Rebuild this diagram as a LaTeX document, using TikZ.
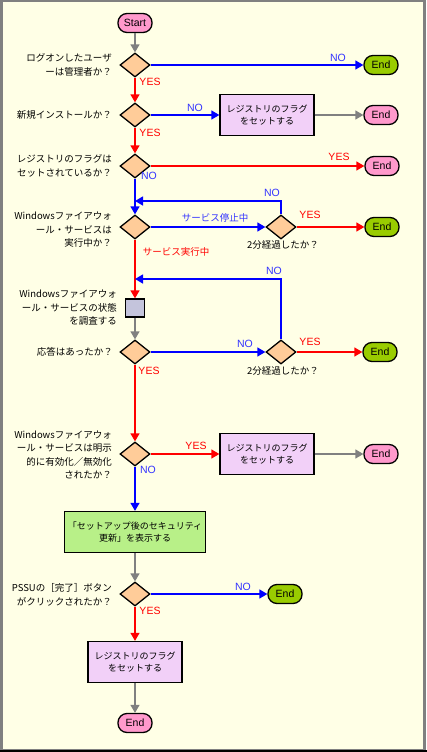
\documentclass[tikz,border=0pt]{standalone}
\usepackage{fontspec}
\setmainfont{Liberation Sans}
\newfontfamily\jpfont{Noto Sans CJK JP}
\usetikzlibrary{arrows.meta,shapes.geometric}
\definecolor{bgyellow}{HTML}{FFFFE6}
\definecolor{startpink}{HTML}{FF99CC}
\definecolor{endgreen}{HTML}{99CC00}
\definecolor{decorange}{HTML}{FFCC99}
\definecolor{flagpurple}{HTML}{F2D0F8}
\definecolor{chkgray}{HTML}{C4C4DC}
\definecolor{pssugreen}{HTML}{B8F088}
\definecolor{notext}{HTML}{3333FF}
\begin{document}
\begin{tikzpicture}
  [x = 1pt, y = -1pt,
   term/.style = {draw = black, line width = 1.3pt, rounded corners = 9pt, minimum width = 34pt,
                  minimum height = 19pt, inner sep = 1pt, font = \fontsize{10.5}{12}\selectfont},
   dec/.style = {draw = black, line width = 1.3pt, fill = decorange, diamond, inner sep = 0pt,
                 minimum width = 30pt, minimum height = 24pt},
   qtext/.style = {anchor = east, align = right, inner sep = 0pt,
                   font = \jpfont\fontsize{9.5}{13.5}\selectfont},
   note/.style = {inner sep = 0pt, font = \jpfont\fontsize{9.5}{13.5}\selectfont},
   flag/.style = {draw = black, line width = 1.3pt, fill = flagpurple, minimum width = 94pt,
                  minimum height = 41pt, align = center, font = \jpfont\fontsize{9}{12.5}\selectfont},
   chk/.style = {draw = black, line width = 1.3pt, fill = chkgray, minimum width = 19pt,
                 minimum height = 18pt, inner sep = 0pt},
   pssu/.style = {draw = black, line width = 1.3pt, fill = pssugreen, minimum width = 139pt,
                  minimum height = 41pt, align = center, font = \jpfont\fontsize{9}{12.5}\selectfont},
   yes/.style = {draw = red, line width = 1.4pt, -{Triangle[length = 8pt, width = 9pt]}},
   no/.style = {draw = blue, line width = 1.4pt, -{Triangle[length = 8pt, width = 9pt]}},
   gry/.style = {draw = gray, line width = 1.4pt, -{Triangle[length = 8pt, width = 9pt]}},
   yeslbl/.style = {text = red, inner sep = 0pt, font = \fontsize{10.5}{12}\selectfont},
   nolbl/.style = {text = notext, inner sep = 0pt, font = \fontsize{10.5}{12}\selectfont}]
  \useasboundingbox (0,0) rectangle (427,752);
  \draw[gray, line width = 2.5pt, fill = bgyellow] (1.25,1.25) rectangle (424.5,750);
  \draw[black, line width = 2pt] (0,751) -- (427,751);

  \node[term, fill = startpink] (start) at (135,23) {Start};
  \node[dec] (q1) at (135,65) {};
  \node[qtext] (q1txt) at (112,65) {ログオンしたユーザ\\ーは管理者か？};
  \node[term, fill = endgreen] (end1) at (381,65) {End};
  \node[dec] (q2) at (135,115) {};
  \node[qtext] (q2txt) at (112,115) {新規インストールか？};
  \node[flag] (flag1) at (267,115) {レジストリのフラグ\\をセットする};
  \node[term, fill = startpink] (end2) at (381,115) {End};
  \node[dec] (q3) at (135,166) {};
  \node[qtext] (q3txt) at (112,166) {レジストリのフラグは\\セットされているか？};
  \node[term, fill = startpink] (end3) at (382,166) {End};
  \node[dec] (q4) at (135,227) {};
  \node[qtext] (q4txt) at (112,230) {Windowsファイアウォ\\ール・サービスは\\実行中か？};
  \node[dec] (q4b) at (281,227) {};
  \node[note] (q4btxt) at (283,245) {2分経過したか？};
  \node[term, fill = endgreen] (end4) at (382,227) {End};
  \coordinate (loop1) at (135,201);
  \node[chk] (chk) at (135,308) {};
  \node[qtext] (chktxt) at (117,308) {Windowsファイアウォ\\ール・サービスの状態\\を調査する};
  \node[dec] (q5) at (135,352) {};
  \node[qtext] (q5txt) at (113,352) {応答はあったか？};
  \node[dec] (q5b) at (281,352) {};
  \node[note] (q5btxt) at (283,371) {2分経過したか？};
  \node[term, fill = endgreen] (end5) at (380,352) {End};
  \coordinate (loop2) at (135,279);
  \node[dec] (q6) at (135,454) {};
  \node[qtext] (q6txt) at (112,455) {Windowsファイアウォ\\ール・サービスは明示\\的に有効化／無効化\\されたか？};
  \node[flag] (flag2) at (267,454) {レジストリのフラグ\\をセットする};
  \node[term, fill = startpink] (end6) at (381,454) {End};
  \node[pssu] (pssu) at (135,532) {「セットアップ後のセキュリティ\\更新」を表示する};
  \node[dec] (q7) at (135,594) {};
  \node[qtext] (q7txt) at (112,595) {PSSUの［完了］ボタン\\がクリックされたか？};
  \node[term, fill = endgreen] (end7) at (285,594) {End};
  \node[flag] (flag3) at (135,662) {レジストリのフラグ\\をセットする};
  \node[term, fill = startpink] (end8) at (135,723) {End};

  \draw[gry] (start) -- (q1);
  \draw[no] (q1) -- (end1);
  \draw[yes] (q1) -- (q2);
  \draw[no] (q2) -- (flag1);
  \draw[gry] (flag1) -- (end2);
  \draw[yes] (q2) -- (q3);
  \draw[yes] (q3) -- (end3);
  \draw[no] (q3) -- (q4);
  \draw[no] (q4) -- (q4b);
  \draw[yes] (q4b) -- (end4);
  \draw[no] (q4b) |- (loop1);
  \draw[yes] (q4) -- (chk);
  \draw[gry] (chk) -- (q5);
  \draw[no] (q5) -- (q5b);
  \draw[yes] (q5b) -- (end5);
  \draw[no] (q5b) |- (loop2);
  \draw[yes] (q5) -- (q6);
  \draw[yes] (q6) -- (flag2);
  \draw[gry] (flag2) -- (end6);
  \draw[no] (q6) -- (pssu);
  \draw[gry] (pssu) -- (q7);
  \draw[no] (q7) -- (end7);
  \draw[yes] (q7) -- (flag3);
  \draw[gry] (flag3) -- (end8);

  \node[nolbl] (q1no) at (338,58) {NO};
  \node[yeslbl] (q1yes) at (150,82) {YES};
  \node[nolbl] (q2no) at (195,108) {NO};
  \node[yeslbl] (q2yes) at (150,133) {YES};
  \node[yeslbl] (q3yes) at (339,157) {YES};
  \node[nolbl] (q3no) at (149,176) {NO};
  \node[nolbl] (loop1no) at (272,193) {NO};
  \node[note, text = notext] (q4stop) at (215,218) {サービス停止中};
  \node[yeslbl] (q4byes) at (310,215) {YES};
  \node[note, text = red] (q4run) at (176,252) {サービス実行中};
  \node[nolbl] (loop2no) at (274,271) {NO};
  \node[nolbl] (q5no) at (245,344) {NO};
  \node[yeslbl] (q5byes) at (310,342) {YES};
  \node[yeslbl] (q5yes) at (149,371) {YES};
  \node[yeslbl] (q6yes) at (196,446) {YES};
  \node[nolbl] (q6no) at (148,470) {NO};
  \node[nolbl] (q7no) at (243,587) {NO};
  \node[yeslbl] (q7yes) at (150,611) {YES};
\end{tikzpicture}
\end{document}
